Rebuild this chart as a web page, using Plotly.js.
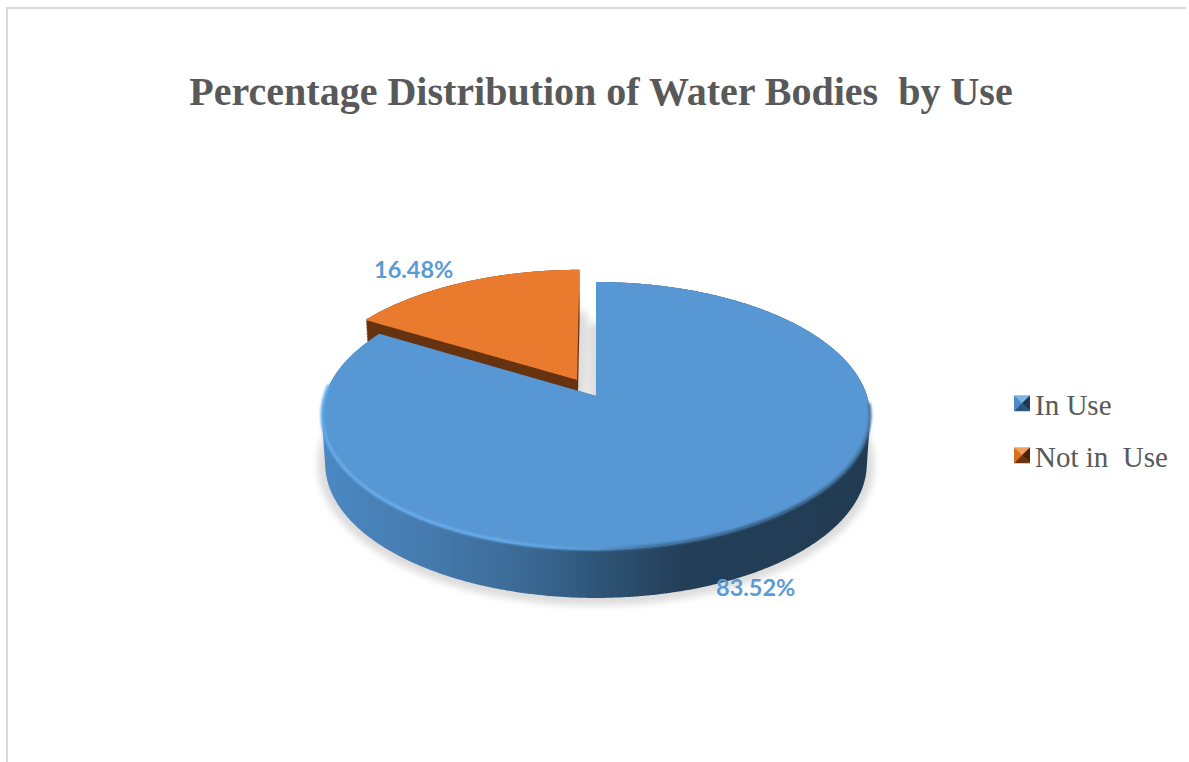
<!DOCTYPE html>
<html>
<head>
<meta charset="utf-8">
<script src="https://cdn.plot.ly/plotly-3.0.1.min.js"></script>
<style>html,body{margin:0;padding:0;background:#fff;overflow:hidden}#chart{width:1189px;height:762px}</style>
</head>
<body>
<div id="chart"></div>
<script>
const chartTitle = "Percentage Distribution of Water Bodies\u00a0 by Use";
const categories = ["In Use", "Not in\u00a0 Use"];
const shares = [83.52, 16.48];
const sliceColors = ["#5797d3", "#e97a2e"];
const wallColors = ["url(#blueWall)", "#66320f"];
const pulls = [0, 0.144];
const bevels = [["#7db4e6", "#4f8cc4", "#1f3a55", "#2c5478"], ["#f2a05f", "#d46f25", "#4a2409", "#6b3410"]];

// Tilted-view parameters for the flat pie the library draws
const view = {x0: 596, y0: 396, rx: 271, ry: 131, persp: 0.149, depth: 48};

const labelText = shares.map(v => v.toFixed(2) + "%");
const W = 1189, H = 762;
const px = x => x / W, py = y => 1 - y / H;

const layout = {
  width: W, height: H,
  margin: {l: 0, r: 0, t: 0, b: 0, autoexpand: false},
  paper_bgcolor: "#ffffff",
  title: {text: "<b>" + chartTitle + "</b>", font: {family: "Liberation Serif", size: 40, color: "#595959"},
    x: px(601), xanchor: "center", y: py(91), yanchor: "middle"},
  showlegend: true,
  legend: {x: px(1002), y: py(378), xanchor: "left", yanchor: "top", bgcolor: "rgba(0,0,0,0)",
    font: {family: "Liberation Serif", size: 29, color: "#595959"}, itemclick: false, itemdoubleclick: false},
  shapes: [
    {type: "line", xref: "paper", yref: "paper", x0: px(7), x1: px(7), y0: py(8), y1: py(762), line: {color: "#d9d9d9", width: 2}},
    {type: "line", xref: "paper", yref: "paper", x0: px(6), x1: px(1186), y0: py(8), y1: py(8), line: {color: "#d9d9d9", width: 2}}
  ],
  annotations: [
    {text: "<b>" + labelText[1] + "</b>", xref: "paper", yref: "paper", x: px(413), y: py(253), showarrow: false,
      font: {family: "Lato", size: 23.5, color: "#5b9bd5"}},
    {text: "<b>" + labelText[0] + "</b>", xref: "paper", yref: "paper", x: px(797), y: py(603), showarrow: false,
      font: {family: "Lato", size: 23.5, color: "#5b9bd5"}}
  ]
};

const trace = {
  type: "pie", labels: categories, values: shares, sort: false, direction: "clockwise", rotation: 0,
  pull: pulls, textinfo: "none", hoverinfo: "skip",
  marker: {colors: sliceColors, line: {width: 0}},
  domain: {x: [0.1, 0.9], y: [0, 1]}
};

const NS = "http://www.w3.org/2000/svg";
function el(tag, attrs, parent) {
  const n = document.createElementNS(NS, tag);
  for (const k in attrs) n.setAttribute(k, attrs[k]);
  if (parent) parent.appendChild(n);
  return n;
}
function gradient(defs, id, stops) {
  const g = el("linearGradient", {id, gradientUnits: "userSpaceOnUse", x1: 322, y1: 0, x2: 870, y2: 0}, defs);
  stops.forEach(s => el("stop", {offset: s[0], "stop-color": s[1]}, g));
}
const toD = pts => "M" + pts.map(p => p[0].toFixed(1) + "," + p[1].toFixed(1)).join("L") + "Z";

Plotly.newPlot("chart", [trace], layout, {displayModeBar: false}).then(gd => {
  const svg = gd.querySelector("svg.main-svg");
  const defs = svg.querySelector("defs") || el("defs", {}, svg);
  gradient(defs, "blueWall", [[0, "#4b88c2"], [0.2, "#457aad"], [0.38, "#3a6893"], [0.52, "#2d5274"], [0.66, "#233f58"], [1, "#213b52"]]);
  gradient(defs, "rimLight", [[0, "#66aeef"], [0.32, "#68aeee"], [0.48, "#5c9fdc"], [0.6, "#3f6f99"], [0.85, "#34597c"], [1, "#45749e"]]);
  const soft = el("filter", {id: "softShadow", x: "-10%", y: "-10%", width: "120%", height: "120%"}, defs);
  el("feGaussianBlur", {stdDeviation: 3.5}, soft);
  const edge = el("filter", {id: "softEdge", x: "-5%", y: "-20%", width: "110%", height: "140%"}, defs);
  el("feGaussianBlur", {stdDeviation: 1}, edge);

  const slices = [...gd.querySelectorAll(".pielayer .slice")];
  const paths = slices.map(s => s.querySelector("path.surface"));
  const holder = slices[0].parentNode;
  const box = paths[0].getBBox();
  const R = box.width / 2, cx = box.x + R, cy = box.y + R;
  const tilt = (x, y) => {
    const u = (x - cx) / R, v = -(y - cy) / R, d = 1 + view.persp * v;
    return [view.x0 + view.rx * u / d, view.y0 - view.ry * v / d, u, v];
  };
  const tops = paths.map(p => {
    const L = p.getTotalLength(), pts = [];
    for (let s = 0; s <= L; s += 1) { const q = p.getPointAtLength(s); pts.push(tilt(q.x, q.y)); }
    return pts;
  });
  const moved = (pts, k) => {
    const f = 1 - 0.012 * k / view.depth;
    return pts.map(p => [view.x0 + (p[0] - view.x0) * f, p[1] + k]);
  };
  const wall = pts => {
    const thin = pts.filter((p, i) => i % 2 === 0);
    let d = "";
    for (let k = 0; k <= view.depth; k += 1.5) d += toD(moved(thin, k));
    return d;
  };
  tops.forEach((pts, i) => paths[i].setAttribute("d", toD(pts)));

  // back to front: floor shadow, far slice, near slice, rim light
  const shadow = el("g", {filter: "url(#softShadow)"});
  tops.forEach(pts => el("path", {d: toD(moved(pts, view.depth)), fill: "#dcdcdc", stroke: "#dcdcdc", "stroke-width": 15, "stroke-linejoin": "round"}, shadow));
  const orangeWall = el("path", {d: wall(tops[1]), fill: wallColors[1]});
  const blueWall = el("path", {d: wall(tops[0]), fill: wallColors[0]});
  holder.insertBefore(shadow, holder.firstChild);
  holder.insertBefore(orangeWall, slices[0]);
  holder.insertBefore(slices[1], slices[0]);
  holder.insertBefore(blueWall, slices[0]);
  const arc = tops[0].filter(p => Math.hypot(p[2], p[3]) > 0.995 && ((p[0] < view.x0 && p[3] < 0.08) || (p[0] >= view.x0 && p[3] < -0.06)));
  const front = arc.slice().sort((a, b) => Math.atan2(a[3], a[2]) - Math.atan2(b[3], b[2]));
  const ordered = [...front.filter(p => p[2] < 0 && p[3] > 0), ...front.filter(p => !(p[2] < 0 && p[3] > 0))];
  el("path", {d: "M" + ordered.map(p => p[0].toFixed(1) + "," + (p[1] - 1).toFixed(1)).join("L"), fill: "none",
    stroke: "url(#rimLight)", "stroke-width": 3, filter: "url(#softEdge)"}, holder);

  // legend spacing and bevelled keys
  const scroll = gd.querySelector(".legend .scrollbox");
  if (scroll) scroll.removeAttribute("clip-path");
  const items = [...gd.querySelectorAll(".legend .traces")];
  items.forEach((it, i) => {
    const m = /translate\(([-\d.]+),\s*([-\d.]+)\)/.exec(it.getAttribute("transform") || "");
    if (m && i > 0) it.setAttribute("transform", `translate(${m[1]},${parseFloat(m[2]) + 11.3 * i})`);
    const t = it.querySelector("text.legendtext");
    if (t) t.setAttribute("x", 33);
    const lp = it.querySelector(".legendpoints");
    if (lp) {
      const g = el("g", {transform: "translate(20,0)"}, lp);
      const a = 8;
      const tri = [[[-a,-a],[a,-a]], [[-a,-a],[-a,a]], [[a,-a],[a,a]], [[-a,a],[a,a]]];
      tri.forEach((s, j) => el("path", {d: `M0,0L${s[0][0]},${s[0][1]}L${s[1][0]},${s[1][1]}Z`, fill: bevels[i][j]}, g));
    }
  });
});
</script>
</body>
</html>
